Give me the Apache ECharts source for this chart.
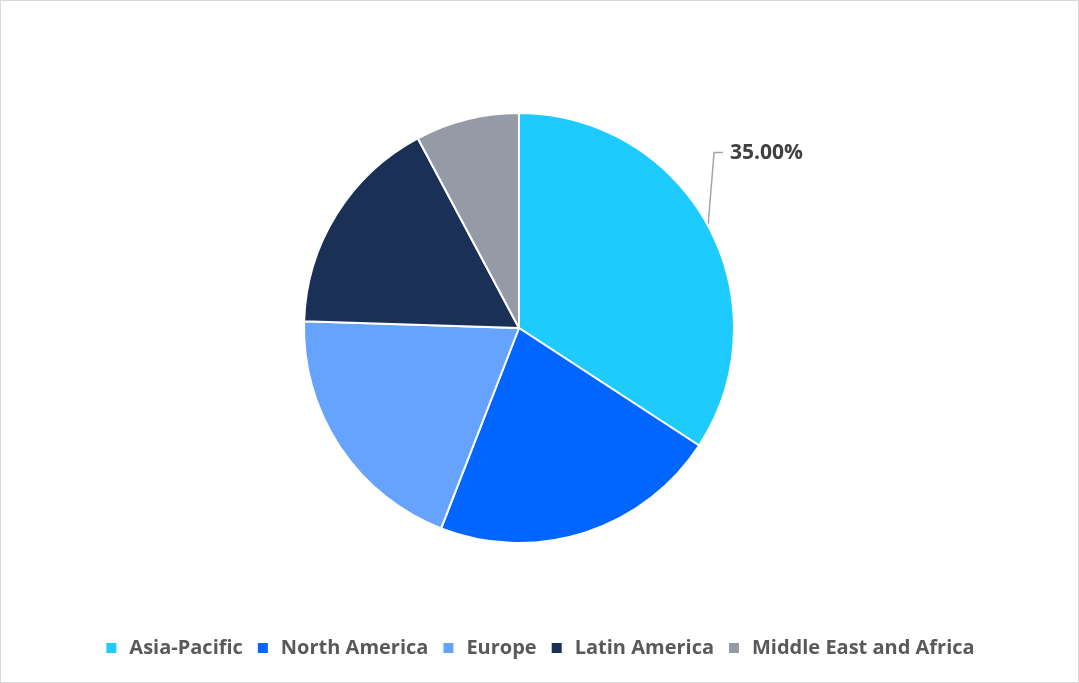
<!DOCTYPE html>
<html><head><meta charset="utf-8">
<script src="https://cdn.jsdelivr.net/npm/echarts@6/dist/echarts.min.js"></script>
<style>
html,body{margin:0;padding:0;background:#fff;}
#c{position:absolute;left:0;top:0;width:1077px;height:681px;border:1px solid #d9d9d9;}
</style></head>
<body><div id="c"></div>
<script>
const categories = ['Asia-Pacific','North America','Europe','Latin America','Middle East and Africa'];
const shares = [34.2, 21.7, 19.6, 16.7, 7.8];
const colors = ['#1ECBFE','#0066FF','#66A3FF','#1B3056','#949AA6'];
const labelTexts = {'Asia-Pacific':'35.00%'};

const chart = echarts.init(document.getElementById('c'));
const data = categories.map((n,i)=>({
  name:n, value:shares[i],
  itemStyle:{color:colors[i]},
  label:{show: n in labelTexts},
  labelLine:{show: n in labelTexts}
}));
chart.setOption({
  animation:false,
  legend:{
    bottom:19, left:'center',
    icon:'rect', itemWidth:12, itemHeight:12, itemGap:13,
    textStyle:{fontFamily:'Open Sans', fontWeight:'bold', fontSize:20, color:'#595959', padding:[0,0,0,7]},
    data:categories
  },
  series:[{
    type:'pie',
    center:[518,327], radius:215,
    startAngle:90, clockwise:true,
    itemStyle:{borderColor:'#fff', borderWidth:2},
    label:{
      formatter:p=>labelTexts[p.name],
      fontFamily:'Open Sans', fontWeight:'bold', fontSize:21, color:'#404040'
    },
    labelLine:{show:true, length:40, length2:10, lineStyle:{color:'#a6a6a6', width:1.5}},
    labelLayout:function(p){
      if(!p.labelLinePoints) return {};
      const s = p.labelLinePoints[0];
      const lx = s[0]+22, ly = s[1]-73;
      return {x:lx, y:ly, align:'left', verticalAlign:'middle',
        labelLinePoints:[s,[s[0]+6,ly],[s[0]+15,ly]]};
    },
    data:data
  }]
});
</script></body></html>
